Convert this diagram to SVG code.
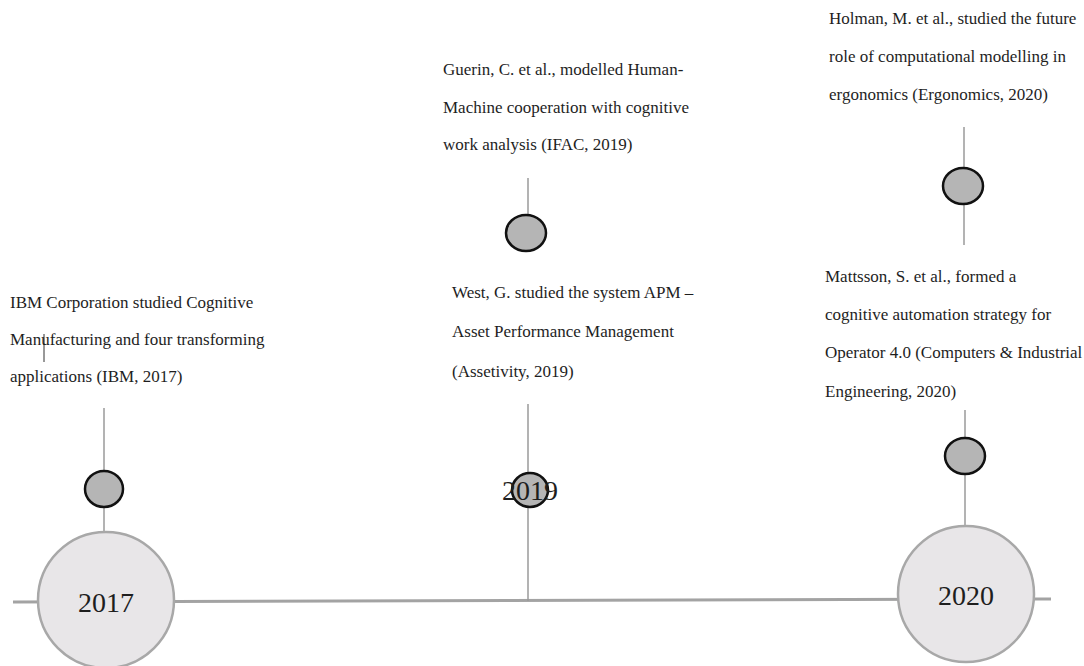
<svg xmlns="http://www.w3.org/2000/svg" width="1084" height="666" viewBox="0 0 1084 666">
<style>
.txt{font-family:"Liberation Serif","Times New Roman",serif;font-size:17px;fill:#1e1e1e}
.year{font-family:"Liberation Serif","Times New Roman",serif;font-size:28px;fill:#1e1e1e;text-anchor:middle}
.stem{stroke:#9a9a9a;stroke-width:1.5;fill:none}
.axis{stroke:#a3a3a3;stroke-width:3;fill:none}
.big{fill:#e8e6e8;stroke:#a8a8a8;stroke-width:2.5}
.dot{fill:#b5b5b5;stroke:#111;stroke-width:2.5}
</style>
<rect width="1084" height="666" fill="#ffffff"/>
<g id="connectors">
<line class="axis" x1="13" y1="602" x2="1051" y2="599"/>
<line class="stem" x1="104" y1="408" x2="104" y2="531"/>
<line class="stem" x1="528" y1="178" x2="528" y2="215"/>
<line class="stem" x1="528" y1="404" x2="528" y2="601"/>
<line class="stem" x1="964" y1="127" x2="964" y2="245"/>
<line class="stem" x1="965" y1="410" x2="965" y2="526"/>
<line x1="44" y1="334" x2="44" y2="362" stroke="#333" stroke-width="1"/>
</g>
<g id="year-2017">
<circle class="big" cx="106" cy="600" r="68"/>
<text class="year" x="106" y="612">2017</text>
</g>
<g id="year-2020">
<circle class="big" cx="966" cy="594" r="68"/>
<text class="year" x="966" y="605">2020</text>
</g>
<g id="event-ibm">
<ellipse class="dot" cx="104" cy="489" rx="19" ry="18"/>
<text class="txt" x="10" y="308">IBM Corporation studied Cognitive</text>
<text class="txt" x="10" y="345">Manufacturing and four transforming</text>
<text class="txt" x="10" y="382">applications (IBM, 2017)</text>
</g>
<g id="event-guerin">
<ellipse class="dot" cx="526" cy="233" rx="20" ry="18"/>
<text class="txt" x="443" y="75">Guerin, C. et al., modelled Human-</text>
<text class="txt" x="443" y="113">Machine cooperation with cognitive</text>
<text class="txt" x="443" y="150">work analysis (IFAC, 2019)</text>
</g>
<g id="event-west">
<ellipse class="dot" cx="530" cy="490" rx="18" ry="17"/>
<text class="year" x="530" y="500">2019</text>
<text class="txt" x="452" y="298">West, G. studied the system APM –</text>
<text class="txt" x="452" y="337">Asset Performance Management</text>
<text class="txt" x="452" y="377">(Assetivity, 2019)</text>
</g>
<g id="event-holman">
<ellipse class="dot" cx="963" cy="186" rx="20" ry="18"/>
<text class="txt" x="829" y="24">Holman, M. et al., studied the future</text>
<text class="txt" x="829" y="62">role of computational modelling in</text>
<text class="txt" x="829" y="100">ergonomics (Ergonomics, 2020)</text>
</g>
<g id="event-mattsson">
<ellipse class="dot" cx="965" cy="456" rx="20" ry="18"/>
<text class="txt" x="825" y="282">Mattsson, S. et al., formed a</text>
<text class="txt" x="825" y="320">cognitive automation strategy for</text>
<text class="txt" x="825" y="358">Operator 4.0 (Computers &amp; Industrial</text>
<text class="txt" x="825" y="397">Engineering, 2020)</text>
</g>
</svg>
